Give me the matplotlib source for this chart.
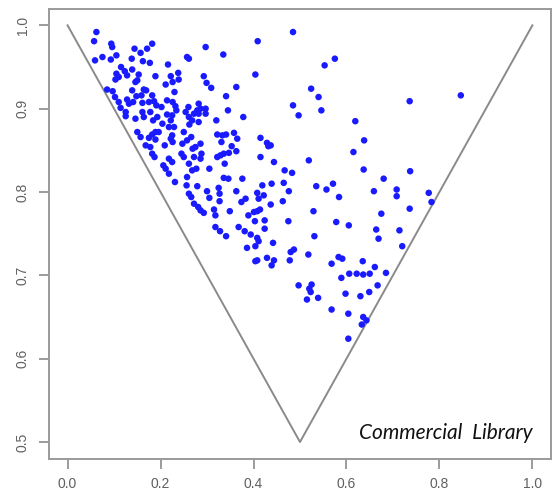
import matplotlib
matplotlib.use('Agg')
import matplotlib.pyplot as plt
import numpy as np

# values
x_vals = [
    0.062, 0.057, 0.094, 0.096, 0.059, 0.075, 0.093, 0.105, 0.144, 0.157,
    0.171, 0.182, 0.138, 0.162, 0.177, 0.216, 0.257, 0.261, 0.115, 0.123,
    0.105, 0.110, 0.103, 0.128, 0.139, 0.153, 0.150, 0.146, 0.189, 0.211,
    0.222, 0.226, 0.230, 0.238, 0.239, 0.085, 0.097, 0.102, 0.110, 0.114,
    0.125, 0.128, 0.132, 0.141, 0.148, 0.139, 0.164, 0.169, 0.159, 0.182,
    0.161, 0.175, 0.186, 0.191, 0.125, 0.146, 0.161, 0.164, 0.178, 0.184,
    0.193, 0.214, 0.226, 0.232, 0.214, 0.222, 0.225, 0.234, 0.254, 0.260,
    0.202, 0.261, 0.268, 0.272, 0.204, 0.218, 0.229, 0.262,
    0.485, 0.409, 0.297, 0.335, 0.404, 0.293, 0.299, 0.309, 0.363, 0.341,
    0.553, 0.575, 0.524, 0.540, 0.485, 0.497, 0.546, 0.345, 0.378, 0.320,
    0.282, 0.286, 0.279, 0.297, 0.297, 0.282, 0.282, 0.736, 0.846, 0.619,
    0.150, 0.157, 0.175, 0.182, 0.189, 0.168, 0.178, 0.189, 0.196, 0.209,
    0.222, 0.226, 0.225, 0.182, 0.187, 0.247, 0.257, 0.266, 0.245, 0.250,
    0.269, 0.272, 0.218, 0.225, 0.206, 0.211, 0.261, 0.218, 0.231, 0.257,
    0.268, 0.256, 0.261, 0.266, 0.272, 0.250,
    0.322, 0.333, 0.341, 0.358, 0.331, 0.365, 0.415, 0.429, 0.432, 0.286,
    0.275, 0.288, 0.286, 0.353, 0.322, 0.329, 0.336, 0.347, 0.363, 0.415,
    0.444, 0.338, 0.305, 0.277, 0.336, 0.346, 0.376, 0.419, 0.279, 0.300,
    0.305, 0.325, 0.327, 0.327, 0.363, 0.408, 0.411, 0.422, 0.374, 0.383,
    0.281, 0.286, 0.293, 0.315, 0.318, 0.349, 0.401, 0.408, 0.414, 0.389,
    0.403, 0.424, 0.318, 0.328, 0.341, 0.368, 0.381, 0.394, 0.408, 0.424,
    0.437,
    0.638, 0.615, 0.637, 0.737, 0.680, 0.519, 0.467, 0.483, 0.465, 0.476,
    0.439, 0.535, 0.571, 0.557, 0.584, 0.659, 0.708, 0.708, 0.777, 0.783,
    0.463, 0.437, 0.529, 0.675, 0.736, 0.475, 0.578, 0.605, 0.664, 0.669,
    0.714, 0.442, 0.531, 0.720,
    0.487, 0.480, 0.478, 0.518, 0.444, 0.439, 0.568, 0.583, 0.591, 0.635,
    0.661, 0.685, 0.589, 0.606, 0.622, 0.636, 0.650, 0.497, 0.525, 0.520,
    0.523, 0.515, 0.539, 0.598, 0.630, 0.649, 0.667, 0.568, 0.604, 0.636,
    0.643, 0.633, 0.604, 0.386, 0.404, 0.411, 0.404, 0.408, 0.429,
]
y_vals = [
    0.992, 0.981, 0.978, 0.974, 0.958, 0.962, 0.959, 0.964, 0.972, 0.967,
    0.972, 0.978, 0.960, 0.957, 0.955, 0.953, 0.962, 0.960, 0.950, 0.945,
    0.942, 0.938, 0.935, 0.940, 0.947, 0.941, 0.934, 0.932, 0.939, 0.929,
    0.939, 0.932, 0.920, 0.943, 0.935, 0.923, 0.921, 0.914, 0.908, 0.901,
    0.896, 0.911, 0.906, 0.908, 0.915, 0.922, 0.923, 0.922, 0.916, 0.916,
    0.907, 0.908, 0.909, 0.904, 0.891, 0.888, 0.896, 0.890, 0.896, 0.886,
    0.890, 0.910, 0.908, 0.903, 0.893, 0.886, 0.892, 0.898, 0.896, 0.902,
    0.902, 0.890, 0.886, 0.894, 0.882, 0.878, 0.878, 0.881,
    0.992, 0.981, 0.974, 0.965, 0.941, 0.939, 0.931, 0.925, 0.926, 0.915,
    0.952, 0.960, 0.924, 0.914, 0.904, 0.892, 0.898, 0.898, 0.890, 0.886,
    0.906, 0.900, 0.898, 0.900, 0.894, 0.894, 0.884, 0.909, 0.916, 0.885,
    0.872, 0.866, 0.865, 0.869, 0.872, 0.856, 0.854, 0.863, 0.872, 0.856,
    0.864, 0.860, 0.868, 0.846, 0.842, 0.858, 0.862, 0.866, 0.846, 0.842,
    0.852, 0.842, 0.840, 0.836, 0.832, 0.828, 0.834, 0.822, 0.812, 0.818,
    0.826, 0.808, 0.798, 0.794, 0.786, 0.872,
    0.869, 0.868, 0.869, 0.871, 0.860, 0.864, 0.865, 0.859, 0.855, 0.858,
    0.854, 0.846, 0.840, 0.855, 0.842, 0.844, 0.846, 0.847, 0.849, 0.842,
    0.836, 0.834, 0.828, 0.828, 0.817, 0.816, 0.816, 0.808, 0.807, 0.801,
    0.793, 0.805, 0.798, 0.789, 0.801, 0.799, 0.792, 0.796, 0.788, 0.792,
    0.782, 0.778, 0.775, 0.779, 0.772, 0.777, 0.776, 0.777, 0.779, 0.772,
    0.765, 0.766, 0.758, 0.753, 0.747, 0.758, 0.753, 0.749, 0.745, 0.756,
    0.856,
    0.862, 0.848, 0.827, 0.825, 0.816, 0.838, 0.826, 0.823, 0.811, 0.801,
    0.810, 0.807, 0.810, 0.803, 0.794, 0.801, 0.803, 0.795, 0.799, 0.788,
    0.789, 0.785, 0.777, 0.774, 0.780, 0.765, 0.764, 0.760, 0.755, 0.744,
    0.754, 0.739, 0.747, 0.735,
    0.731, 0.728, 0.718, 0.725, 0.718, 0.712, 0.714, 0.722, 0.720, 0.717,
    0.710, 0.703, 0.697, 0.702, 0.702, 0.701, 0.702, 0.688, 0.689, 0.684,
    0.680, 0.671, 0.673, 0.678, 0.675, 0.680, 0.688, 0.659, 0.654, 0.650,
    0.646, 0.641, 0.624, 0.733, 0.735, 0.741, 0.717, 0.718, 0.721,
]

# V-shaped boundary
v_x = [0.0, 0.5, 1.0]
v_y = [1.0, 0.5, 1.0]

x_ticks = [0.0, 0.2, 0.4, 0.6, 0.8, 1.0]
y_ticks = [0.5, 0.6, 0.7, 0.8, 0.9, 1.0]
label_text = 'Commercial  Library'

fig = plt.figure(figsize=(5.58, 4.91), dpi=100)
ax = fig.add_axes([0.0878, 0.0658, 0.8996, 0.9165])

ax.plot(v_x, v_y, color='#8a8a8a', linewidth=1.4, zorder=1)
ax.scatter(x_vals, y_vals, s=22, color='#1a1aff', edgecolors='none', zorder=2)

ax.set_xlim(-0.04, 1.04)
ax.set_ylim(0.48, 1.02)
ax.set_xticks(x_ticks)
ax.set_xticklabels([f'{t:.1f}' for t in x_ticks], family='Liberation Sans')
ax.set_yticks(y_ticks)
ax.set_yticklabels([f'{t:.1f}' for t in y_ticks], rotation=90, va='center',
                   family='Liberation Sans')

for sp in ax.spines.values():
    sp.set_color('#9a9a9a')
    sp.set_linewidth(1.4)
ax.tick_params(axis='both', colors='#8a8a8a', labelcolor='#606060',
               length=7, width=1.2, labelsize=10)
ax.tick_params(axis='x', pad=6)
ax.tick_params(axis='y', pad=7)

ax.text(1.0, 0.511, label_text, ha='right', va='center', fontsize=15,
        style='italic', family='Lato', color='#111111')

fig.savefig('out.png', dpi=100)
